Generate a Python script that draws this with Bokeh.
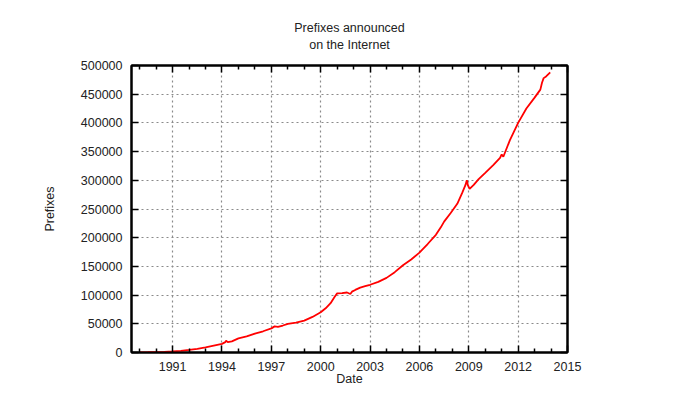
from bokeh.plotting import figure
from bokeh.models import (FixedTicker, LinearAxis, Range1d, Title, BasicTickFormatter)
from bokeh.embed import file_html
from bokeh.resources import INLINE

years = [1989.0, 1989.5, 1990.0, 1990.5, 1991.0, 1991.5, 1992.0, 1992.5, 1993.0, 1993.5,
         1994.0, 1994.2, 1994.25, 1994.35, 1994.6, 1995.0, 1995.5, 1996.0, 1996.5, 1997.0,
         1997.2, 1997.4, 1997.7, 1998.0, 1998.5, 1999.0, 1999.5, 2000.0, 2000.3, 2000.6,
         2000.85, 2001.0, 2001.3, 2001.6, 2001.8, 2001.9, 2002.1, 2002.4, 2002.7, 2003.0,
         2003.5, 2004.0, 2004.5, 2005.0, 2005.5, 2006.0, 2006.5, 2007.0, 2007.3, 2007.5,
         2007.9, 2008.3, 2008.6, 2008.8, 2008.88, 2008.95, 2009.05, 2009.3, 2009.6, 2010.0,
         2010.5, 2010.9, 2011.0, 2011.1, 2011.5, 2012.0, 2012.5, 2013.0, 2013.35, 2013.45,
         2013.55, 2013.7, 2013.95]
prefixes = [300, 500, 800, 1200, 1800, 3000, 4500, 6500, 9000, 12000,
            15000, 18000, 20500, 18000, 19500, 24500, 28000, 33000, 37000, 42000,
            45500, 44500, 47000, 50000, 52000, 55500, 62000, 70000, 77000, 86000,
            97000, 103000, 103500, 104500, 102000, 106000, 109000, 113000, 115500, 118000,
            123000, 130000, 140000, 152000, 162000, 174000, 189000, 205000, 218000, 228000,
            243000, 259000, 278000, 292000, 300000, 291000, 285000, 292000, 302000, 313000,
            327000, 339000, 345000, 341000, 370000, 400000, 425000, 444000, 458000, 470000,
            478000, 481000, 488000]

x_ticks = [1991, 1994, 1997, 2000, 2003, 2006, 2009, 2012, 2015]
x_minor = [1989, 1990, 1992, 1993, 1995, 1996, 1998, 1999, 2001, 2002, 2004, 2005,
           2007, 2008, 2010, 2011, 2013, 2014]
y_ticks = [0, 50000, 100000, 150000, 200000, 250000, 300000, 350000, 400000, 450000, 500000]
title_lines = ["Prefixes announced", "on the Internet"]

FONT = "Liberation Sans"
TXT = "#222222"
FS = "12.5px"

p = figure(output_backend="svg", toolbar_location=None,
           x_range=Range1d(1988.5, 2015), y_range=Range1d(0, 500000),
           min_border_left=131, min_border_right=100, min_border_top=65, min_border_bottom=30,
           frame_width=436, frame_height=287, title=None)

p.line(years, prefixes, line_color="#ff0000", line_width=1.8)

p.outline_line_color = "black"
p.outline_line_width = 2
p.background_fill_color = "white"
p.border_fill_color = "white"

xt = FixedTicker(ticks=x_ticks, minor_ticks=x_minor)
yt = FixedTicker(ticks=y_ticks, minor_ticks=[])

def style(ax, labels=True):
    ax.axis_line_color = "black"
    ax.axis_line_width = 2
    ax.major_tick_in = 7
    ax.major_tick_out = 0
    ax.minor_tick_in = 4
    ax.minor_tick_out = 0
    ax.major_tick_line_width = 1.5
    ax.minor_tick_line_width = 1.5
    ax.major_label_text_font = FONT
    ax.major_label_text_font_size = FS
    ax.major_label_text_color = TXT
    ax.axis_label_text_font = FONT
    ax.axis_label_text_font_size = FS
    ax.axis_label_text_color = TXT
    ax.axis_label_text_font_style = "normal"
    if not labels:
        ax.major_label_text_font_size = "0px"
        ax.major_label_text_alpha = 0

xa = p.xaxis[0]
xa.ticker = xt
style(xa)
xa.axis_label = "Date"
xa.major_label_standoff = 9
xa.axis_label_standoff = -2

ya = p.yaxis[0]
ya.ticker = yt
ya.formatter = BasicTickFormatter(use_scientific=False)
style(ya)
ya.axis_label = "Prefixes"
ya.major_label_standoff = 9
ya.axis_label_standoff = 21

top = LinearAxis(ticker=xt)
style(top, labels=False)
top.major_label_standoff = 0
top.axis_label = title_lines[1]
top.axis_label_standoff = 14
p.add_layout(top, "above")

right = LinearAxis(ticker=yt)
style(right, labels=False)
p.add_layout(right, "right")

p.xgrid.ticker = xt
p.ygrid.ticker = yt
for g in (p.xgrid[0], p.ygrid[0]):
    g.grid_line_color = "#8a8a8a"
    g.grid_line_dash = "2 3"
    g.grid_line_width = 1.2

p.add_layout(Title(text=title_lines[0], align="center", text_font=FONT,
                   text_font_size=FS, text_color=TXT, text_font_style="normal",
                   standoff=0), "above")

open("out.html", "w").write(file_html(p, INLINE))
